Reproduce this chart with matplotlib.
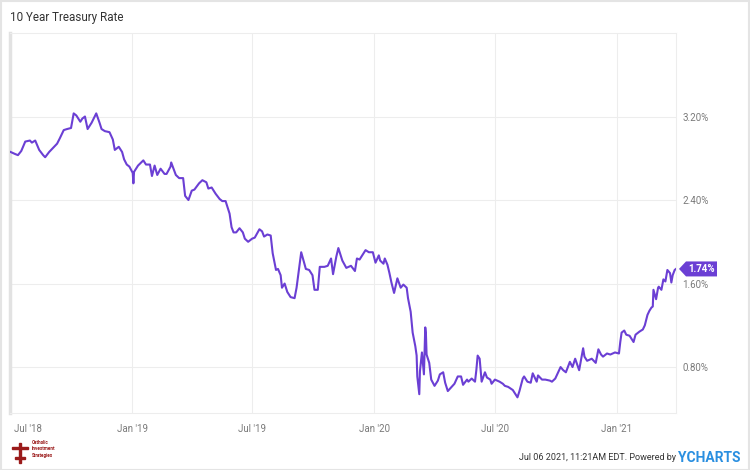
import matplotlib
matplotlib.use("Agg")
import matplotlib.pyplot as plt
import matplotlib.dates as mdates
from matplotlib.patches import Polygon, Rectangle
from matplotlib.transforms import IdentityTransform, ScaledTranslation
import numpy as np
import pandas as pd

plt.rcParams['font.family'] = ['Roboto', 'DejaVu Sans']

dates = [
 "2018-07-02","2018-07-09","2018-07-13","2018-07-18","2018-07-24","2018-07-31","2018-08-03","2018-08-08",
 "2018-08-14","2018-08-20","2018-08-23","2018-08-29","2018-09-04","2018-09-10","2018-09-14","2018-09-20",
 "2018-09-25","2018-10-01","2018-10-05","2018-10-09","2018-10-15","2018-10-18","2018-10-22","2018-10-26",
 "2018-11-01","2018-11-08","2018-11-13","2018-11-16","2018-11-21","2018-11-28","2018-12-03","2018-12-06",
 "2018-12-12","2018-12-17","2018-12-20","2018-12-24","2018-12-28",
 "2019-01-02","2019-01-03","2019-01-04","2019-01-10","2019-01-18","2019-01-22","2019-01-28","2019-01-31",
 "2019-02-04","2019-02-08","2019-02-13","2019-02-19","2019-02-22","2019-02-28","2019-03-01","2019-03-08",
 "2019-03-13","2019-03-19","2019-03-22","2019-03-27","2019-04-01","2019-04-05","2019-04-12","2019-04-17",
 "2019-04-23","2019-04-26","2019-05-01","2019-05-07","2019-05-13","2019-05-17","2019-05-22","2019-05-28",
 "2019-05-31","2019-06-03","2019-06-07","2019-06-12","2019-06-17","2019-06-20","2019-06-25","2019-07-01",
 "2019-07-05","2019-07-12","2019-07-16","2019-07-19","2019-07-24","2019-07-29","2019-08-01","2019-08-06",
 "2019-08-09","2019-08-13","2019-08-15","2019-08-19","2019-08-23","2019-08-28","2019-09-03","2019-09-06",
 "2019-09-13","2019-09-17","2019-09-20","2019-09-25","2019-09-30","2019-10-03","2019-10-08","2019-10-11",
 "2019-10-18","2019-10-23","2019-10-28","2019-10-31","2019-11-05","2019-11-08","2019-11-14","2019-11-20",
 "2019-11-27","2019-12-03","2019-12-06","2019-12-10","2019-12-16","2019-12-19","2019-12-24","2019-12-30",
 "2020-01-03","2020-01-08","2020-01-10","2020-01-15","2020-01-17","2020-01-21","2020-01-24","2020-01-27",
 "2020-01-31","2020-02-05","2020-02-10","2020-02-14","2020-02-19","2020-02-21","2020-02-25","2020-02-28",
 "2020-03-03","2020-03-05","2020-03-06","2020-03-09","2020-03-10","2020-03-12","2020-03-13","2020-03-16",
 "2020-03-18","2020-03-19","2020-03-20","2020-03-24","2020-03-27","2020-04-01","2020-04-06","2020-04-09",
 "2020-04-14","2020-04-17","2020-04-21","2020-04-28","2020-05-01","2020-05-06","2020-05-11","2020-05-14",
 "2020-05-20","2020-05-22","2020-05-27","2020-06-01","2020-06-03","2020-06-05","2020-06-08","2020-06-11",
 "2020-06-16","2020-06-19","2020-06-24","2020-06-26","2020-07-01","2020-07-08","2020-07-13","2020-07-16",
 "2020-07-21","2020-07-28","2020-08-04","2020-08-07","2020-08-12","2020-08-14","2020-08-19","2020-08-24",
 "2020-08-27","2020-09-02","2020-09-04","2020-09-10","2020-09-15","2020-09-22","2020-09-25","2020-09-30",
 "2020-10-08","2020-10-12","2020-10-16","2020-10-22","2020-10-26","2020-10-30","2020-11-05","2020-11-11",
 "2020-11-13","2020-11-17","2020-11-24","2020-11-30","2020-12-04","2020-12-08","2020-12-11","2020-12-17",
 "2020-12-22","2020-12-29",
 "2021-01-04","2021-01-06","2021-01-08","2021-01-12","2021-01-15","2021-01-20","2021-01-26","2021-01-29",
 "2021-02-04","2021-02-09","2021-02-12","2021-02-16","2021-02-19","2021-02-22","2021-02-24","2021-02-25",
 "2021-03-01","2021-03-04","2021-03-05","2021-03-09","2021-03-12","2021-03-15","2021-03-18","2021-03-22",
 "2021-03-24","2021-03-26","2021-03-29","2021-03-31"]

rates = [
 2.86,2.84,2.83,2.87,2.96,2.97,2.95,2.97,
 2.88,2.83,2.81,2.86,2.90,2.94,2.99,3.07,
 3.08,3.09,3.23,3.21,3.15,3.18,3.20,3.08,
 3.14,3.23,3.14,3.08,3.06,3.05,2.98,2.88,
 2.91,2.86,2.79,2.74,2.72,
 2.66,2.56,2.67,2.73,2.78,2.74,2.74,2.63,
 2.73,2.64,2.70,2.65,2.65,2.72,2.76,2.64,
 2.61,2.61,2.44,2.40,2.49,2.50,2.56,2.59,
 2.57,2.51,2.52,2.46,2.41,2.39,2.39,2.27,
 2.14,2.09,2.09,2.13,2.09,2.03,2.00,2.03,
 2.04,2.12,2.10,2.05,2.07,2.06,1.89,1.73,
 1.74,1.68,1.56,1.60,1.52,1.47,1.46,1.56,
 1.90,1.81,1.74,1.73,1.68,1.54,1.54,1.76,
 1.76,1.77,1.84,1.69,1.86,1.94,1.82,1.75,
 1.77,1.72,1.84,1.83,1.89,1.92,1.90,1.90,
 1.80,1.87,1.82,1.79,1.84,1.78,1.70,1.61,
 1.51,1.65,1.56,1.59,1.56,1.46,1.33,1.13,
 1.00,0.91,0.71,0.54,0.76,0.88,0.94,0.73,
 1.18,1.12,0.92,0.84,0.68,0.62,0.67,0.73,
 0.75,0.65,0.57,0.62,0.64,0.71,0.71,0.63,
 0.68,0.66,0.69,0.66,0.77,0.91,0.88,0.66,
 0.75,0.70,0.68,0.64,0.68,0.66,0.64,0.62,
 0.61,0.58,0.51,0.57,0.69,0.71,0.66,0.65,
 0.74,0.66,0.72,0.68,0.68,0.67,0.66,0.69,
 0.80,0.77,0.75,0.85,0.80,0.88,0.77,0.98,
 0.90,0.86,0.88,0.84,0.97,0.92,0.90,0.93,
 0.92,0.94,
 0.93,1.04,1.13,1.15,1.11,1.10,1.04,1.11,
 1.14,1.16,1.20,1.30,1.34,1.37,1.38,1.54,
 1.45,1.56,1.57,1.54,1.64,1.62,1.73,1.70,
 1.61,1.68,1.73,1.74]

ytick_vals = [0.8, 1.6, 2.4, 3.2]
ytick_labels = ["0.80%", "1.60%", "2.40%", "3.20%"]
xtick_dates = ["2018-07-01", "2019-01-01", "2019-07-01", "2020-01-01", "2020-07-01", "2021-01-01"]
xtick_labels = ["Jul '18", "Jan '19", "Jul '19", "Jan '20", "Jul '20", "Jan '21"]

title = "10 Year Treasury Rate"
last_label = "1.74%"
footer = "Jul 06 2021, 11:21AM EDT. Powered by "

LINE = "#6b3fd4"
GRID = "#ededed"
TXT = "#7a7a7a"

W, H = 750, 470
fig = plt.figure(figsize=(W/100, H/100), dpi=100)
fig.patch.set_facecolor("white")

L, R, T, B = 10, 676, 33, 413
ax = fig.add_axes([L/W, 1-B/H, (R-L)/W, (B-T)/H])

x = pd.to_datetime(dates)
ax.plot(x, rates, color=LINE, lw=1.5, solid_joinstyle="round", zorder=3)

ax.set_xlim(pd.Timestamp("2018-07-01"), pd.Timestamp("2021-03-31"))
ax.set_ylim(0.36, 4.0)

ax.set_yticks(ytick_vals)
ax.set_yticklabels(ytick_labels)
ax.yaxis.tick_right()
ax.tick_params(axis="y", length=0, pad=4.5, labelsize=7, labelcolor=TXT)

xt = pd.to_datetime(xtick_dates)
ax.set_xticks(xt)
ax.set_xticklabels(xtick_labels)
ax.tick_params(axis="x", length=0, pad=8, labelsize=7, labelcolor=TXT)
ax.get_xticklabels()[0].set_ha("left")

ax.grid(True, color=GRID, lw=0.8, zorder=0)
ax.set_axisbelow(True)
for s in ["top", "right", "bottom"]:
    ax.spines[s].set_color(GRID)
    ax.spines[s].set_linewidth(0.8)
ax.spines["left"].set_color("#e2e2e2")
ax.spines["left"].set_linewidth(2.5)

lab0 = ax.get_xticklabels()[0]
lab0.set_transform(lab0.get_transform() + ScaledTranslation(4/100, 0, fig.dpi_scale_trans))

fig.text(10/W, 1-17/H, title, fontsize=8.4, color="#333333", va="center", ha="left")

# badge for last value
fig.canvas.draw()
xp, yp = ax.transData.transform((mdates.date2num(x[-1]), rates[-1]))
tip = R + 3
hh = 7.5
poly = Polygon([(tip, yp), (tip + 7, yp + hh), (tip + 38, yp + hh), (tip + 38, yp - hh), (tip + 7, yp - hh)],
               closed=True, transform=IdentityTransform(), facecolor=LINE, edgecolor="none", zorder=5)
fig.patches.append(poly)
fig.text((tip + 22.5)/W, yp/H, last_label, fontsize=7, color="white", fontweight="bold",
         ha="center", va="center", zorder=6)

# footer
fig.text(0.904, 1-458/H, footer, fontsize=6.5, color="#333333", ha="right", va="center")
fig.text(0.904, 1-458/H, "YCHARTS", fontsize=10, color="#2a8fe0", fontweight="bold", ha="left", va="center")

# logo (simplified cross) with text
lc = "#9b1b1b"
fig.patches.append(Rectangle((15/W, 1-459/H), 10/W, 2/H, transform=fig.transFigure, color=lc))
fig.patches.append(Rectangle((19/W, 1-463/H), 2/W, 20/H, transform=fig.transFigure, color=lc))
fig.patches.append(Rectangle((12/W, 1-449/H), 16/W, 2/H, transform=fig.transFigure, color=lc))
fig.text(32/W, 1-443/H, "Catholic", fontsize=3.3, color=lc, fontweight="bold", va="center")
fig.text(32/W, 1-449/H, "Investment", fontsize=3.3, color=lc, fontweight="bold", va="center")
fig.text(32/W, 1-455/H, "Strategies", fontsize=3.3, color=lc, fontweight="bold", va="center")

# outer border
fig.patches.append(Rectangle((0.5/W, 0.5/H), (W-1.5)/W, (H-1.5)/H, transform=fig.transFigure,
                             fill=False, edgecolor="#e4e4e4", lw=1.5))

fig.savefig("out.png", dpi=100)
